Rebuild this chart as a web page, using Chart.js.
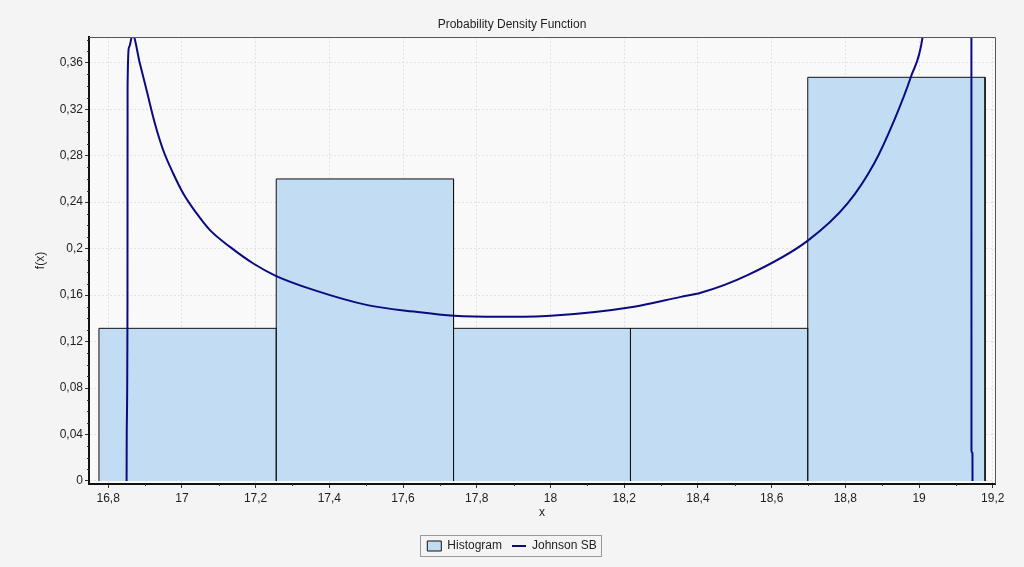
<!DOCTYPE html>
<html>
<head>
<meta charset="utf-8">
<script src="https://cdn.jsdelivr.net/npm/chart.js@4/dist/chart.umd.min.js"></script>
<style>
  html, body { margin: 0; padding: 0; background: #f4f4f4; }
  #wrap { width: 1024px; height: 567px; }
</style>
</head>
<body>
<div id="wrap"><canvas id="pdf" width="1024" height="567"></canvas></div>
<script>
// histogram bins (edges) and their densities
let binEdges = [16.775, 17.256, 17.737, 18.217, 18.698, 19.179];
let binHeights = [0.1314, 0.260, 0.1314, 0.1314, 0.3475];

// Johnson SB curve, read point by point
let curveX = [16.850, 16.8504, 16.8524, 16.8527, 16.857, 16.8663, 16.8861, 16.9043, 16.9268, 16.9494,
  16.9765, 17.0037, 17.0401, 17.0762, 17.1305, 17.1938, 17.2546, 17.3568, 17.5034, 17.6300,
  17.7384, 17.8651, 18.0008, 18.2269, 18.3536, 18.4078, 18.5346, 18.6974, 18.806, 18.878,
  18.9325, 18.9777, 19.0095, 19.03, 19.10, 19.135, 19.1415, 19.1420, 19.1422, 19.1448,
  19.1450];
let curveY = [0, 0.042, 0.156, 0.340, 0.3736, 0.384, 0.3593, 0.3363, 0.3077, 0.2847,
  0.2647, 0.2475, 0.2303, 0.2159, 0.2015, 0.1872, 0.1766, 0.1645, 0.1514, 0.1458,
  0.1422, 0.1413, 0.1422, 0.1500, 0.1585, 0.162, 0.1772, 0.2067, 0.2389, 0.2733,
  0.3105, 0.3478, 0.3822, 0.45, 0.60, 0.60, 0.45, 0.38, 0.026, 0.024,
  0];

let xTickStep = 0.2;
let yTickStep = 0.04;
let xRange = [16.748, 19.206];
let yRange = [-0.0026, 0.3822];

let font = "'Liberation Sans', Arial, sans-serif";
let textColor = '#1e1e1e';

// outline of the histogram: every bin as its own closed box down to zero
let histData = [{x: binEdges[0], y: 0}];
for (let i = 0; i < binHeights.length; i++) {
  histData.push({x: binEdges[i], y: binHeights[i]});
  histData.push({x: binEdges[i + 1], y: binHeights[i]});
  histData.push({x: binEdges[i + 1], y: 0});
}
let curveData = curveX.map((x, i) => ({x: x, y: curveY[i]}));

function fmt(v) {
  return String(+v.toFixed(2)).replace('.', ',');
}

// page + plot background, top/right frame, minor ticks, legend frame
const decor = {
  id: 'decor',
  beforeDraw(chart) {
    const ctx = chart.ctx, a = chart.chartArea;
    ctx.save();
    ctx.fillStyle = '#f4f4f4';
    ctx.fillRect(0, 0, chart.width, chart.height);
    ctx.fillStyle = '#f9f9f9';
    ctx.fillRect(a.left, a.top, a.right - a.left, a.bottom - a.top);
    ctx.restore();
  },
  afterDraw(chart) {
    const ctx = chart.ctx, a = chart.chartArea;
    const xs = chart.scales.x, ys = chart.scales.y;
    ctx.save();
    ctx.strokeStyle = '#555';
    ctx.lineWidth = 1;
    ctx.beginPath();
    ctx.moveTo(a.left, a.top + 0.5);
    ctx.lineTo(a.right + 0.5, a.top + 0.5);
    ctx.lineTo(a.right + 0.5, a.bottom);
    ctx.stroke();

    // minor ticks
    ctx.strokeStyle = '#333';
    ctx.beginPath();
    for (let k = 1; k * 0.01 < yRange[1]; k++) {
      if (k % 4 === 0) continue;
      const py = Math.round(ys.getPixelForValue(k * 0.01)) + 0.5;
      ctx.moveTo(a.left - 2, py);
      ctx.lineTo(a.left, py);
    }
    for (let k = 169; k * 0.1 < xRange[1]; k += 2) {
      const px = Math.round(xs.getPixelForValue(k * 0.1)) + 0.5;
      ctx.moveTo(px, a.bottom);
      ctx.lineTo(px, a.bottom + 2);
    }
    ctx.stroke();

    // legend frame
    const boxes = chart.legend.legendHitBoxes;
    if (boxes && boxes.length) {
      let l = Infinity, r = -Infinity, t = Infinity, b = -Infinity;
      boxes.forEach(h => {
        l = Math.min(l, h.left); r = Math.max(r, h.left + h.width);
        t = Math.min(t, h.top); b = Math.max(b, h.top + h.height);
      });
      ctx.strokeStyle = '#9a9a9a';
      ctx.strokeRect(Math.round(l) - 6.5, Math.round(t) - 4.5, Math.round(r - l) + 12, Math.round(b - t) + 9);
    }
    ctx.restore();
  }
};

new Chart(document.getElementById('pdf'), {
  type: 'line',
  data: {
    datasets: [
      {
        label: 'Histogram',
        data: histData,
        backgroundColor: '#c2dcf4',
        borderColor: '#111',
        borderWidth: 1,
        pointRadius: 0,
        tension: 0,
        fill: 'origin',
        pointStyle: 'rect',
        order: 2
      },
      {
        label: 'Johnson SB',
        data: curveData,
        borderColor: '#0b0b80',
        backgroundColor: '#0b0b80',
        borderWidth: 2,
        pointRadius: 0,
        cubicInterpolationMode: 'monotone',
        fill: false,
        pointStyle: 'line',
        order: 1
      }
    ]
  },
  options: {
    responsive: false,
    animation: false,
    locale: 'de-DE',
    layout: { padding: { left: 0, right: 0, top: 0, bottom: 5 } },
    plugins: {
      title: {
        display: true,
        text: 'Probability Density Function',
        color: textColor,
        font: { family: font, size: 12, weight: 'normal' },
        padding: { top: 17, bottom: 5.6 }
      },
      legend: {
        position: 'bottom',
        labels: {
          usePointStyle: true,
          pointStyleWidth: 14,
          boxHeight: 10,
          padding: 10,
          color: textColor,
          font: { family: font, size: 12 },
          sort: (a, b) => a.datasetIndex - b.datasetIndex
        }
      },
      tooltip: { enabled: false }
    },
    scales: {
      x: {
        type: 'linear',
        min: xRange[0],
        max: xRange[1],
        offset: false,
        afterFit(s) { s.height = 46; },
        ticks: {
          stepSize: xTickStep,
          includeBounds: false,
          maxRotation: 0,
          autoSkip: false,
          padding: 3,
          color: textColor,
          font: { family: font, size: 12 },
          callback: v => fmt(v)
        },
        grid: {
          color: '#e2e2e2',
          tickColor: '#333',
          tickLength: 4,
          lineWidth: 1
        },
        border: { color: '#111', width: 2, dash: [2, 2] },
        title: {
          display: true,
          text: 'x',
          color: textColor,
          font: { family: font, size: 12 },
          padding: { top: 0, bottom: 10 }
        }
      },
      y: {
        type: 'linear',
        min: yRange[0],
        max: yRange[1],
        afterFit(s) { s.width = 89; },
        ticks: {
          stepSize: yTickStep,
          includeBounds: false,
          padding: 2,
          color: textColor,
          font: { family: font, size: 12 },
          callback: v => fmt(v)
        },
        grid: {
          color: '#e2e2e2',
          tickColor: '#333',
          tickLength: 4,
          lineWidth: 1
        },
        border: { color: '#111', width: 2, dash: [2, 2] },
        title: {
          display: true,
          text: 'f(x)',
          color: textColor,
          font: { family: font, size: 12 },
          padding: { top: 33, bottom: 0 }
        }
      },
      // empty right-hand strip so the plot ends where the reference does
      yRight: {
        type: 'linear',
        position: 'right',
        display: true,
        afterFit(s) { s.width = 29; },
        ticks: { display: false },
        grid: { drawOnChartArea: false, drawTicks: false },
        border: { display: false }
      }
    }
  },
  plugins: [decor]
});
</script>
</body>
</html>
